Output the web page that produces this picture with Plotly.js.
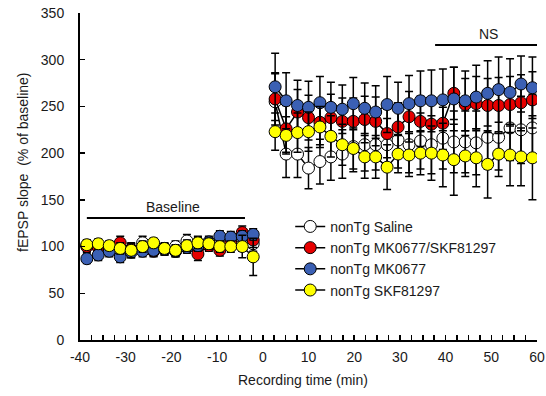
<!DOCTYPE html>
<html><head><meta charset="utf-8">
<script src="https://cdn.plot.ly/plotly-3.0.1.min.js"></script>
<style>html,body{margin:0;padding:0;background:#fff}#chart{width:546px;height:396px}</style>
</head><body><div id="chart"></div>
<script>
// Recording times (min)
const baselineTime = [-38.5,-36.0,-33.6,-31.2,-28.8,-26.3,-23.9,-21.5,-19.1,-16.6,-14.2,-11.8,-9.4,-7.0,-4.5,-2.1];
const postTime = [2.7,5.1,7.6,10.0,12.5,14.9,17.4,19.8,22.3,24.7,27.2,29.6,32.0,34.5,36.9,39.4,41.8,44.3,46.7,49.2,51.6,54.1,56.5,59.0];

const xTickVals = [-40,-30,-20,-10,0,10,20,30,40,50,60];
const xTickText = ["-40","-30","-20","-10","0","10","20","30","40","50","60"];

const seriesNames = ["nonTg Saline","nonTg MK0677/SKF81297","nonTg MK0677","nonTg SKF81297"];

// Saline
const salineBase = [101,100,98,99,97,104,101,98,100,106,104,103,104,106,102,103];
const salinePost = [255,199,199,184,191,196,199,207,209,209,209,214,209,213,209,216,212,212,211,217,217,227,225,227];
const salineBaseErr = [6,6,6,6,6,7,6,6,6,7,7,6,6,7,7,8];
const salinePostErr = [30,25,25,22,24,25,26,27,28,27,28,30,30,30,31,33,33,33,34,34,35,35,36,36];
// MK0677/SKF81297
const comboBase = [100,99,98,104,97,99,95,97,95,99,92,101,96,104,115,107];
const comboPost = [258,226,244,238,233,238,234,234,236,234,221,228,239,234,231,232,264,252,253,251,251,252,254,257];
const comboBaseErr = [6,6,6,7,6,6,6,6,6,6,7,6,6,7,7,8];
const comboPostErr = [28,25,24,24,24,25,25,25,25,26,26,26,27,27,27,28,28,28,29,29,30,30,30,30];
// MK0677
const mkBase = [87,91,95,89,94,95,96,97,95,99,101,105,111,110,111,113];
const mkPost = [271,256,251,249,254,249,247,253,248,244,252,248,253,256,256,257,258,256,260,264,268,265,274,270];
const mkBaseErr = [5,6,6,6,6,6,6,6,6,6,6,6,6,6,6,6];
const mkPostErr = [36,30,27,28,28,27,26,28,27,28,30,28,30,32,33,33,34,32,34,35,35,36,30,33];
// SKF81297
const skfBase = [102,103,101,98,96,100,104,98,96,101,104,103,100,100,100,89];
const skfPost = [223,219,222,223,228,218,209,205,196,196,185,199,198,200,200,198,193,197,195,188,199,198,196,195];
const skfBaseErr = [5,5,5,6,8,6,5,5,6,6,6,6,6,6,12,20];
const skfPostErr = [20,20,21,21,22,22,22,22,23,23,24,20,23,23,29,34,38,22,31,36,24,33,31,45];

const colors = ["#ffffff","#e60000","#3b60b4","#ffff00"];

function build(name, base, post, bErr, pErr, color){
  const x = baselineTime.concat([0], postTime);
  const y = base.concat([null], post);
  const e = bErr.concat([0], pErr);
  return {
    type:'scatter', mode:'lines+markers', name:name, x:x, y:y, connectgaps:false,
    line:{color:'#000', width:1.5},
    marker:{size:12, color:color, line:{color:'#000', width:1}},
    error_y:{type:'data', array:e, visible:true, color:'#000', thickness:1.5, width:4}
  };
}

const traces = [
  build(seriesNames[0], salineBase, salinePost, salineBaseErr, salinePostErr, colors[0]),
  build(seriesNames[1], comboBase, comboPost, comboBaseErr, comboPostErr, colors[1]),
  build(seriesNames[2], mkBase, mkPost, mkBaseErr, mkPostErr, colors[2]),
  build(seriesNames[3], skfBase, skfPost, skfBaseErr, skfPostErr, colors[3])
];

const font = {family:'"Liberation Sans", Arial, sans-serif', size:14, color:'#1a1a1a'};

const layout = {
  width:546, height:396,
  margin:{l:80, r:9, t:13, b:56},
  paper_bgcolor:'#fff', plot_bgcolor:'#fff',
  font:font,
  showlegend:true,
  legend:{x:0.46, y:0.395, xanchor:'left', yanchor:'top', bgcolor:'rgba(0,0,0,0)', font:font, tracegroupgap:0},
  xaxis:{
    range:[-40,60], showline:true, linecolor:'#000', linewidth:2, showgrid:false, zeroline:false,
    tickmode:'array', tickvals:xTickVals, ticktext:xTickText, ticks:'inside', ticklen:5, tickwidth:1.5, tickcolor:'#000',
    minor:{dtick:2.5, tick0:-40, ticks:'inside', ticklen:5, tickwidth:1.5, tickcolor:'#000', showgrid:false},
    tickfont:font, ticklabelstandoff:3
  },
  yaxis:{
    range:[0,350], showline:true, linecolor:'#000', linewidth:2, showgrid:false, zeroline:false,
    tickmode:'linear', tick0:0, dtick:50, ticks:'inside', ticklen:5, tickwidth:1.5, tickcolor:'#000',
    tickfont:font, ticklabelstandoff:11
  },
  shapes:[
    {type:'line', xref:'x', yref:'y', x0:-38.5, x1:-3.9, y0:130.6, y1:130.6, line:{color:'#000', width:2}},
    {type:'line', xref:'x', yref:'y', x0:37.7, x1:60, y0:315.8, y1:315.8, line:{color:'#000', width:2}}
  ],
  annotations:[
    {xref:'x', yref:'y', x:-19.6, y:142.5, text:'Baseline', showarrow:false, font:font},
    {xref:'x', yref:'y', x:49.3, y:327, text:'NS', showarrow:false, font:font},
    {xref:'paper', yref:'paper', x:(23-80)/457, y:(340-162)/327, xanchor:'center', yanchor:'middle', text:'fEPSP slope  (% of baseline)', textangle:-90, showarrow:false, font:font},
    {xref:'paper', yref:'paper', x:(303-80)/457, y:(340-380)/327, xanchor:'center', yanchor:'middle', text:'Recording time (min)', showarrow:false, font:font}
  ]
};

Plotly.newPlot('chart', traces, layout, {displayModeBar:false, staticPlot:true});
</script>
</body></html>
